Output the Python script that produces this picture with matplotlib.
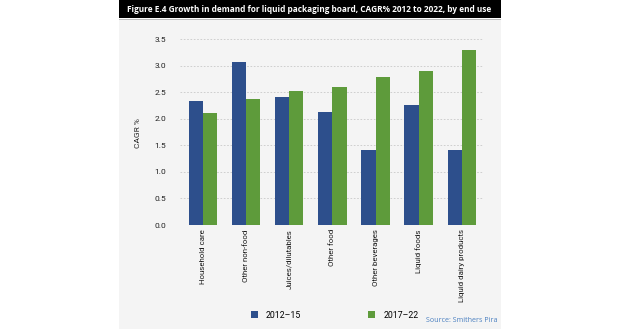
import matplotlib.pyplot as plt
import numpy as np
from matplotlib.patches import Rectangle

categories = ["Household care", "Other non-food", "Juices/dilutables", "Other food",
              "Other beverages", "Liquid foods", "Liquid dairy products"]
cagr_2012_15 = [2.34, 3.07, 2.41, 2.12, 1.42, 2.25, 1.42]
cagr_2017_22 = [2.10, 2.37, 2.52, 2.59, 2.78, 2.89, 3.30]
series_labels = ["2012\u201315", "2017\u201322"]
yticks = [0.0, 0.5, 1.0, 1.5, 2.0, 2.5, 3.0, 3.5]

blue = "#2d4f8c"
green = "#5e9b3b"
panel = "#f4f4f4"
cond = ["Roboto", "DejaVu Sans"]

W, H = 620, 330
fig = plt.figure(figsize=(6.2, 3.3), dpi=100)

# grey panel and black title bar (pixel coords converted to figure fraction)
fig.patches.append(Rectangle((119 / W, 1 - 329 / H), 382 / W, 309 / H,
                             transform=fig.transFigure, facecolor=panel, edgecolor="none", zorder=-2))
fig.patches.append(Rectangle((119 / W, 1 - 18 / H), 382 / W, 18 / H,
                             transform=fig.transFigure, facecolor="black", edgecolor="none", zorder=-2))
fig.patches.append(Rectangle((119 / W, 1 - 20 / H), 382 / W, 1.5 / H,
                             transform=fig.transFigure, facecolor="#bdbdbd", edgecolor="none", zorder=-2))
fig.text(127 / W, 1 - 9.5 / H,
         "Figure E.4 Growth in demand for liquid packaging board, CAGR% 2012 to 2022, by end use",
         color="white", fontsize=5.95, fontweight="bold", family="Open Sans", va="center", ha="left")

ax = fig.add_axes([180 / W, 1 - 225 / H, 303 / W, 186 / H])
ax.set_zorder(2)
ax.set_facecolor(panel)

x = np.arange(len(categories))
w = 0.33
b1 = ax.bar(x - w / 2, cagr_2012_15, w, color=blue, label=series_labels[0], zorder=3)
b2 = ax.bar(x + w / 2, cagr_2017_22, w, color=green, label=series_labels[1], zorder=3)

ax.set_xlim(-0.53, 6.49)
ax.set_ylim(0, 3.5)
ax.set_yticks(yticks)
ax.set_yticklabels([f"{v:.1f}" for v in yticks], family=cond, fontsize=6, color="#222222")
ax.set_xticks(x)
ax.set_xticklabels(categories, rotation=90, family=cond, fontsize=5.7, color="#1a1a1a", va="top")
ax.tick_params(length=0, pad=3)
ax.tick_params(axis="y", pad=10)
ax.yaxis.grid(True, color="#c8c8c8", linestyle=(0, (2, 2)), linewidth=0.6, zorder=0)
for s in ax.spines.values():
    s.set_visible(False)

fig.text(138 / W, 1 - 133 / H, "CAGR %", rotation=90, family=cond, fontsize=6,
         color="#222222", ha="center", va="center")

leg = fig.legend(handles=[b1, b2], loc="center left", bbox_to_anchor=(243 / W, 1 - 315 / H),
                 ncol=2, frameon=False, columnspacing=7.7, handlelength=0.8, handleheight=0.8,
                 handletextpad=0.9, prop={"family": cond, "size": 6.3})

fig.text(498 / W, 1 - 321 / H, "Source: Smithers Pira", color="#4a7fc0", fontsize=5.1,
         family="Open Sans", ha="right", va="center")

fig.savefig("out.png", dpi=100)
